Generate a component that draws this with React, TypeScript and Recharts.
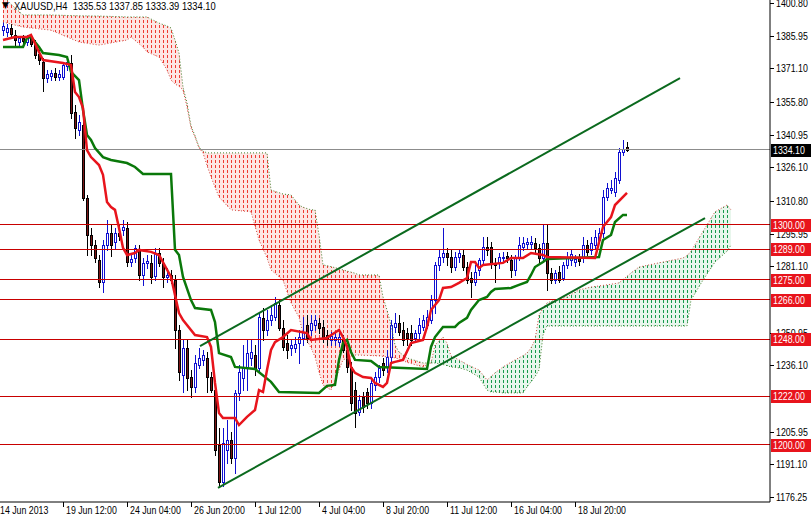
import React from 'react';
import { ComposedChart, Bar, Line, Area, XAxis, YAxis, ReferenceLine } from 'recharts';

const FONT = '"Liberation Sans", Arial, sans-serif';

const OPEN = [1388.6,1387.7,1389.5,1386.3,1383.1,1384.9,1383.1,1384.9,1382.7,1377.7,
1374.0,1366.7,1367.7,1369.0,1367.2,1367.2,1372.2,1373.6,1351.3,1343.1,
1345.4,1312.2,1295.4,1290.8,1284.0,1274.0,1290.8,1296.3,1292.2,1296.3,
1297.7,1298.6,1283.1,1284.9,1288.6,1277.2,1282.7,1282.7,1276.7,1287.2,
1282.7,1276.3,1277.2,1274.9,1252.2,1231.7,1244.0,1230.8,1226.3,1236.3,
1238.6,1239.5,1230.8,1224.9,1199.9,1183.1,1197.7,1202.2,1194.0,1223.6,
1230.4,1234.9,1239.5,1240.8,1234.9,1257.7,1252.2,1256.7,1258.1,1263.6,
1253.1,1246.3,1244.0,1244.0,1246.3,1248.6,1254.5,1252.2,1254.5,1255.4,
1253.6,1249.9,1247.7,1247.7,1246.7,1247.7,1243.1,1235.4,1224.9,1214.9,
1221.7,1224.0,1219.0,1227.2,1230.8,1237.2,1235.4,1239.9,1253.6,1255.4,
1252.2,1250.8,1250.8,1248.6,1250.8,1253.6,1254.5,1256.7,1265.8,1281.7,
1285.4,1287.2,1285.4,1280.8,1285.4,1286.3,1280.8,1275.8,1274.0,1279.5,
1284.0,1290.0,1290.0,1282.7,1282.7,1284.9,1285.8,1284.0,1279.5,1285.4,
1290.0,1291.3,1291.3,1291.7,1289.5,1284.9,1291.7,1278.1,1274.9,1278.6,
1275.8,1281.7,1284.0,1283.1,1284.9,1284.9,1290.8,1288.6,1290.8,1293.1,
1296.3,1312.7,1315.8,1314.9,1320.4,1333.1,1335.53];
const HIGH = [1392.2,1391.3,1391.3,1388.6,1385.8,1386.3,1386.3,1386.7,1384.0,1379.5,
1375.8,1370.4,1370.4,1371.3,1370.4,1374.0,1374.9,1377.2,1354.5,1349.9,
1347.7,1313.6,1298.6,1293.1,1286.3,1293.1,1302.2,1299.9,1298.6,1299.9,
1302.2,1301.3,1286.3,1290.8,1290.8,1284.9,1286.3,1286.3,1289.5,1289.5,
1284.9,1280.4,1279.5,1277.2,1254.5,1247.7,1247.7,1234.0,1240.8,1244.0,
1243.1,1242.2,1233.1,1227.2,1207.7,1207.7,1211.3,1205.8,1224.9,1236.3,
1245.4,1247.7,1247.7,1245.4,1260.4,1262.2,1261.3,1263.6,1267.2,1265.8,
1256.7,1249.9,1247.7,1249.0,1252.2,1258.1,1259.0,1259.0,1259.0,1257.7,
1256.7,1252.2,1251.3,1250.8,1250.8,1249.9,1245.4,1237.7,1228.6,1222.7,
1224.0,1225.8,1230.4,1233.1,1236.3,1239.5,1243.1,1256.7,1259.9,1259.0,
1255.8,1253.1,1254.5,1252.2,1257.7,1259.0,1261.3,1268.1,1283.1,1288.6,
1298.6,1289.5,1288.6,1287.7,1288.6,1288.6,1283.1,1278.6,1281.7,1284.9,
1294.5,1294.5,1292.2,1284.9,1287.2,1287.7,1287.7,1286.3,1286.3,1294.5,
1294.5,1294.0,1294.9,1294.0,1291.3,1299.9,1299.9,1280.4,1279.5,1281.3,
1283.1,1287.7,1288.6,1286.3,1286.7,1294.5,1293.1,1294.5,1297.7,1298.6,
1315.8,1319.0,1320.4,1324.0,1334.9,1338.6,1337.85];
const LOW = [1386.3,1385.8,1385.8,1380.8,1380.8,1382.2,1381.7,1381.3,1375.8,1373.1,
1360.8,1364.9,1365.8,1365.8,1365.8,1366.3,1370.4,1348.6,1339.5,1340.8,
1311.3,1286.3,1286.3,1283.1,1271.7,1269.5,1288.6,1285.8,1289.5,1293.1,
1295.4,1281.3,1281.3,1283.1,1274.9,1272.7,1280.4,1273.6,1274.9,1281.3,
1271.7,1274.0,1273.6,1244.0,1229.5,1224.0,1224.9,1221.7,1224.0,1234.9,
1236.3,1224.0,1224.0,1195.4,1180.8,1181.3,1191.7,1191.7,1187.2,1220.4,
1224.9,1224.9,1236.3,1231.7,1233.1,1247.7,1249.9,1254.5,1256.7,1252.2,
1243.1,1239.5,1240.8,1242.2,1237.2,1245.4,1246.7,1249.9,1252.2,1250.8,
1246.7,1245.4,1245.4,1245.4,1244.9,1242.2,1233.1,1215.8,1208.1,1213.6,
1214.9,1216.7,1216.7,1224.9,1228.6,1231.7,1233.1,1237.7,1251.3,1249.9,
1245.4,1245.4,1245.4,1246.7,1248.6,1252.2,1253.1,1255.4,1259.9,1279.5,
1283.1,1281.7,1278.6,1279.5,1283.1,1279.5,1273.6,1267.2,1272.7,1277.2,
1281.7,1286.3,1280.4,1274.0,1280.4,1283.1,1283.1,1276.3,1277.2,1284.0,
1288.6,1289.5,1289.5,1287.7,1283.1,1283.1,1270.4,1273.6,1273.6,1274.0,
1274.9,1280.4,1281.7,1281.3,1281.7,1283.1,1286.3,1286.7,1289.5,1291.7,
1294.5,1311.3,1314.5,1313.1,1319.0,1331.7,1333.39];
const CLOSE = [1390.4,1389.5,1386.7,1384.0,1384.9,1383.6,1385.4,1382.2,1377.2,1374.9,
1366.7,1368.6,1369.0,1367.2,1368.6,1372.7,1374.0,1350.8,1344.0,1346.7,
1312.2,1295.4,1290.8,1284.9,1274.0,1290.8,1296.3,1290.8,1296.3,1294.9,
1299.0,1283.1,1284.5,1289.5,1277.2,1282.7,1283.6,1276.3,1287.2,1282.7,
1276.3,1277.2,1274.9,1252.2,1233.1,1244.0,1230.4,1226.3,1237.2,1239.5,
1240.8,1230.8,1224.9,1197.7,1183.1,1200.8,1202.2,1194.0,1223.6,1233.1,
1234.9,1241.7,1242.2,1234.9,1258.1,1252.2,1256.7,1259.0,1264.5,1253.1,
1244.5,1243.1,1245.4,1245.8,1249.0,1251.3,1248.6,1255.4,1256.7,1253.1,
1249.0,1248.6,1249.5,1249.0,1249.0,1243.1,1235.4,1219.0,1214.5,1220.4,
1217.2,1219.0,1228.1,1230.8,1234.9,1234.0,1239.9,1254.5,1255.4,1251.3,
1247.7,1248.6,1247.7,1250.8,1254.5,1256.7,1258.1,1265.8,1281.7,1285.4,
1287.2,1285.4,1280.8,1285.4,1287.2,1280.8,1274.9,1274.0,1278.6,1284.0,
1290.0,1288.6,1282.7,1281.7,1285.4,1285.4,1284.9,1279.5,1285.4,1290.8,
1291.7,1292.2,1292.2,1289.5,1284.9,1291.7,1278.1,1274.9,1278.1,1274.9,
1281.7,1285.4,1286.7,1284.5,1283.6,1290.8,1287.7,1291.7,1294.5,1296.3,
1312.7,1316.7,1316.7,1321.3,1333.1,1334.5,1334.10];

const TENKAN_IDX = [0,3,6,7,9,10,15,17,18,19,20,21,22,24,25,26,27,28,29,30,31,33,34,37,39,42,44,45,48,51,52,53,54,55,58,59,61,63,64,65,66,67,68,70,72,76,77,81,84,85,86,87,88,90,92,93,95,96,97,98,100,102,105,106,107,109,110,112,114,116,117,118,119,120,125,127,130,132,135,136,148,150,152,153,156];
const TENKAN_VAL = [1384.0,1385.4,1385.4,1386.3,1378.6,1374.9,1373.6,1372.7,1360.4,1358.1,1353.1,1334.0,1330.8,1327.2,1322.7,1310.4,1308.1,1306.8,1298.6,1289.5,1286.3,1287.2,1288.6,1287.7,1286.3,1276.3,1259.9,1256.7,1249.9,1249.0,1244.5,1228.1,1214.5,1212.2,1212.2,1209.0,1212.7,1215.8,1224.9,1224.0,1234.0,1243.1,1246.7,1249.0,1252.2,1250.8,1247.7,1248.6,1252.2,1249.0,1244.5,1235.4,1232.7,1230.8,1230.4,1228.1,1226.3,1228.1,1237.2,1237.7,1238.6,1246.3,1247.7,1253.6,1261.3,1265.8,1271.3,1271.7,1273.6,1275.8,1283.1,1283.1,1280.4,1281.7,1282.7,1284.9,1284.9,1287.2,1286.3,1285.4,1284.9,1299.0,1303.5,1309.0,1314.5];

const KIJUN_IDX = [0,5,6,7,9,10,14,16,17,19,20,21,22,23,25,27,31,33,35,42,43,44,45,47,48,52,53,54,57,58,63,67,69,79,81,83,84,85,86,87,88,92,94,106,107,108,110,113,114,116,117,119,121,122,123,127,129,131,132,133,135,136,149,150,152,153,155,156];
const KIJUN_VAL = [1380.8,1380.8,1384.9,1385.4,1380.8,1378.1,1377.2,1376.3,1369.5,1365.8,1352.2,1340.8,1338.6,1334.9,1330.8,1329.5,1328.1,1326.3,1323.1,1323.1,1288.6,1286.3,1276.3,1265.8,1262.2,1261.3,1255.8,1241.7,1239.9,1235.4,1234.5,1228.6,1224.0,1223.6,1226.8,1227.2,1238.6,1246.3,1247.7,1242.2,1238.6,1238.1,1235.4,1234.5,1244.5,1249.0,1253.6,1253.6,1255.4,1257.7,1261.3,1265.8,1267.2,1269.5,1270.8,1271.3,1272.7,1274.0,1277.2,1280.8,1283.1,1284.5,1285.4,1293.1,1295.4,1301.3,1304.5,1304.5];

const CLOUD_IDX = [0,3,5,12,19,24,31,32,35,36,39,41,42,43,44,45,46,47,48,49,50,51,52,54,57,62,64,66,67,70,72,74,75,77,78,79,80,82,85,88,89,94,95,96,97,98,99,101,105,107,108,110,111,112,114,116,119,121,122,123,125,128,130,131,132,133,134,135,136,138,141,144,147,151,154,157,159,165,170,171,172,175,178,181,182];
const SPAN_A = [1392.2,1390.8,1389.9,1388.5,1383.1,1381.7,1384.0,1385.4,1380.8,1378.6,1376.3,1370.4,1365.8,1364.0,1363.0,1361.3,1353.6,1344.0,1339.9,1335.0,1332.7,1327.0,1321.7,1312.6,1306.8,1305.9,1293.1,1285.0,1279.5,1274.9,1264.5,1258.0,1250.8,1244.0,1240.0,1233.1,1227.2,1224.9,1238.6,1240.8,1240.8,1240.4,1240.2,1240.0,1239.9,1239.5,1239.0,1237.5,1235.4,1237.2,1245.4,1249.0,1246.3,1240.4,1238.6,1236.5,1234.0,1229.5,1231.0,1232.7,1235.4,1238.6,1240.5,1241.7,1244.0,1247.7,1259.0,1262.0,1264.5,1265.8,1267.2,1270.4,1271.7,1272.7,1273.6,1278.1,1280.8,1283.1,1284.9,1286.0,1288.0,1297.0,1305.9,1309.0,1306.8];
const SPAN_B = [1404.0,1398.6,1395.4,1395.4,1395.0,1394.9,1394.5,1394.5,1394.5,1394.5,1391.7,1390.4,1389.5,1384.0,1378.1,1362.6,1355.4,1345.0,1340.5,1335.4,1333.5,1332.7,1332.7,1332.7,1332.7,1332.7,1332.7,1332.7,1315.8,1314.0,1313.6,1309.0,1308.0,1306.8,1306.8,1295.4,1281.8,1281.0,1279.5,1278.0,1277.2,1277.2,1267.2,1261.3,1254.5,1245.4,1242.2,1239.5,1237.2,1237.2,1237.2,1236.5,1236.0,1235.4,1235.0,1234.0,1230.8,1224.9,1224.0,1224.0,1223.6,1223.6,1223.6,1226.3,1228.6,1231.0,1234.0,1249.9,1254.0,1254.0,1254.0,1254.0,1254.0,1254.0,1254.0,1254.0,1254.0,1254.0,1254.0,1254.0,1265.8,1274.9,1283.1,1288.0,1290.8];

const RED_LEVELS = [1300.0, 1289.0, 1275.0, 1266.0, 1248.0, 1222.0, 1200.0];
const LAST_PRICE = 1334.10;
const Y_TICKS = [1400.80, 1385.95, 1371.10, 1355.80, 1340.95, 1326.10, 1310.80, 1295.95, 1281.10, 1250.95, 1236.10, 1205.95, 1191.10, 1176.25];
const X_TICK_IDX = [-0.75, 15, 31, 47, 63, 79, 95, 111, 127, 143];
const X_TICK_LABELS = ['14 Jun 2013', '19 Jun 12:00', '24 Jun 04:00', '26 Jun 20:00', '1 Jul 12:00', '4 Jul 04:00', '8 Jul 20:00', '11 Jul 12:00', '16 Jul 04:00', '18 Jul 20:00'];

const UPPER_TREND = [{ x: 49.25, y: 1244.9 }, { x: 169.25, y: 1366.7 }];
const LOWER_TREND = [{ x: 53.75, y: 1180.4 }, { x: 175.5, y: 1303.1 }];

const TITLE = 'XAUUSD,H4  1335.53 1337.85 1333.39 1334.10';
const LAST_INDEX = 182;

const rows: any[] = [];
for (let i = 0; i <= LAST_INDEX; i++) rows.push({ i });
OPEN.forEach((o, i) => Object.assign(rows[i], { o, h: HIGH[i], l: LOW[i], c: CLOSE[i] }));
TENKAN_IDX.forEach((idx, k) => { rows[idx].tenkan = TENKAN_VAL[k]; });
KIJUN_IDX.forEach((idx, k) => { rows[idx].kijun = KIJUN_VAL[k]; });
CLOUD_IDX.forEach((idx, k) => {
  const a = SPAN_A[k], b = SPAN_B[k];
  rows[idx].spanA = a;
  rows[idx].spanB = b;
  if (b >= a) rows[idx].red = [a, b];
  if (a >= b) rows[idx].green = [b, a];
});

const Candle = (p: any) => {
  const { x, y, width, height, payload } = p;
  if (!payload || payload.h == null || x == null) return <g />;
  const top = Math.min(y, y + height);
  const bot = Math.max(y, y + height);
  const span = payload.h - payload.l;
  const py = (v: number) => (span === 0 ? top : top + ((payload.h - v) / span) * (bot - top));
  const cx = Math.round(x + width / 2);
  const up = payload.c >= payload.o;
  const yo = py(payload.o);
  const yc = py(payload.c);
  const bt = Math.round(Math.min(yo, yc)) + 0.5;
  const bb = Math.max(Math.round(Math.max(yo, yc)) + 0.5, bt + 1);
  const col = up ? '#1010d0' : '#000000';
  return (
    <g shapeRendering="crispEdges">
      <line x1={cx + 0.5} x2={cx + 0.5} y1={Math.round(top)} y2={Math.round(bot) + 1} stroke={col} strokeWidth={1} />
      <rect x={cx - 0.5} y={bt} width={2} height={bb - bt} fill={up ? '#ffffff' : '#7a1515'} stroke={col} strokeWidth={1} />
    </g>
  );
};

const YTick = (p: any) => {
  const { x, y, payload } = p;
  const v = payload.value;
  const isRed = RED_LEVELS.includes(v);
  const isLast = v === LAST_PRICE;
  if (isRed || isLast) {
    return (
      <g>
        <rect x={x + 1} y={Math.round(y) - 6} width={40} height={13} fill={isRed ? '#e8141c' : '#000000'} />
        <text transform={`translate(${x + 3},${y}) scale(0.8,1)`} dy="0.36em" fontSize={11} fontFamily={FONT} fill="#ffffff">{v.toFixed(2)}</text>
      </g>
    );
  }
  return (
    <g>
      <line x1={x} x2={x + 4} y1={Math.round(y) + 0.5} y2={Math.round(y) + 0.5} stroke="#000" />
      <text transform={`translate(${x + 6},${y}) scale(0.8,1)`} dy="0.36em" fontSize={11} fontFamily={FONT} fill="#000000">{v.toFixed(2)}</text>
    </g>
  );
};

const XTick = (p: any) => {
  const { x, y, payload } = p;
  const k = X_TICK_IDX.indexOf(payload.value);
  const label = k >= 0 ? X_TICK_LABELS[k] : '';
  const tx = k > 0 ? x + 3 : x;
  return (
    <g>
      {k > 0 && <line x1={Math.round(x) + 0.5} x2={Math.round(x) + 0.5} y1={y} y2={y + 5} stroke="#000" />}
      <text transform={`translate(${tx},${y + 12}) scale(0.8,1)`} fontSize={11} fontFamily={FONT} fill="#000">{label}</text>
    </g>
  );
};

export default function App() {
  return (
    <div style={{ position: 'absolute', left: 0, top: 0, width: 812, height: 516, background: '#fff', overflow: 'hidden' }}>
      <svg width={1} height={1} style={{ position: 'absolute', left: 0, top: 0 }}>
        <defs>
          <pattern id="cloudRedDash" x="0" y="0" width="4" height="5" patternUnits="userSpaceOnUse">
            <rect x="0" y="0" width="4" height="5" fill="#fde6e4" />
            <rect x="3" y="0" width="1" height="3" fill="#ee3a32" />
          </pattern>
          <pattern id="cloudGreenDash" x="0" y="0" width="4" height="5" patternUnits="userSpaceOnUse">
            <rect x="0" y="0" width="4" height="5" fill="#e8f6ec" />
            <rect x="3" y="0" width="1" height="3" fill="#169a4c" />
          </pattern>
        </defs>
      </svg>
      <ComposedChart width={812} height={516} data={rows} margin={{ top: 0, right: 0, bottom: 0, left: 0 }}>
        <XAxis dataKey="i" type="number" domain={[-0.75, 191.75]} allowDataOverflow ticks={X_TICK_IDX} interval={0}
          tick={<XTick />} tickLine={false} tickSize={0} tickMargin={0} height={14} axisLine={{ stroke: '#000' }} />
        <YAxis orientation="right" type="number" domain={[1174.0, 1402.2]} allowDataOverflow width={42}
          ticks={[...Y_TICKS, ...RED_LEVELS, LAST_PRICE]} interval={0} tick={<YTick />} tickLine={false}
          tickSize={0} tickMargin={0} axisLine={{ stroke: '#000' }} />
        <Area dataKey="red" type="linear" connectNulls stroke="none" fill="url(#cloudRedDash)" fillOpacity={1} isAnimationActive={false} dot={false} activeDot={false} />
        <Area dataKey="green" type="linear" connectNulls stroke="none" fill="url(#cloudGreenDash)" fillOpacity={1} isAnimationActive={false} dot={false} activeDot={false} />
        <Line dataKey="spanA" type="linear" connectNulls stroke="#d04a40" strokeWidth={1} strokeDasharray="1 2" dot={false} activeDot={false} isAnimationActive={false} />
        <Line dataKey="spanB" type="linear" connectNulls stroke="#3f7f2a" strokeWidth={1} strokeDasharray="1 2" dot={false} activeDot={false} isAnimationActive={false} />
        {RED_LEVELS.map((v) => (
          <ReferenceLine key={v} y={v} stroke="#c80000" strokeWidth={1} shapeRendering="crispEdges" />
        ))}
        <ReferenceLine y={LAST_PRICE} stroke="#8c8c8c" strokeWidth={1} shapeRendering="crispEdges" />
        <Bar dataKey={(d: any) => (d.h == null ? null : [d.l, d.h])} shape={Candle} barSize={3} isAnimationActive={false} />
        <Line dataKey="kijun" type="linear" connectNulls stroke="#0a780a" strokeWidth={2.5} dot={false} activeDot={false} isAnimationActive={false} />
        <Line dataKey="tenkan" type="linear" connectNulls stroke="#e8141c" strokeWidth={2.5} dot={false} activeDot={false} isAnimationActive={false} />
        <ReferenceLine segment={UPPER_TREND} stroke="#0b6a1e" strokeWidth={2} />
        <ReferenceLine segment={LOWER_TREND} stroke="#0b6a1e" strokeWidth={2} />
      </ComposedChart>
      <div style={{ position: 'absolute', left: 2, top: 0, fontSize: 9, fontFamily: 'DejaVu Sans', color: '#000', lineHeight: '10px' }}>▼</div>
      <div style={{ position: 'absolute', left: 14, top: 0, fontSize: 11, fontFamily: FONT, color: '#000', whiteSpace: 'pre', lineHeight: '12px', transform: 'scaleX(0.85)', transformOrigin: 'left top' }}>{TITLE}</div>
    </div>
  );
}
